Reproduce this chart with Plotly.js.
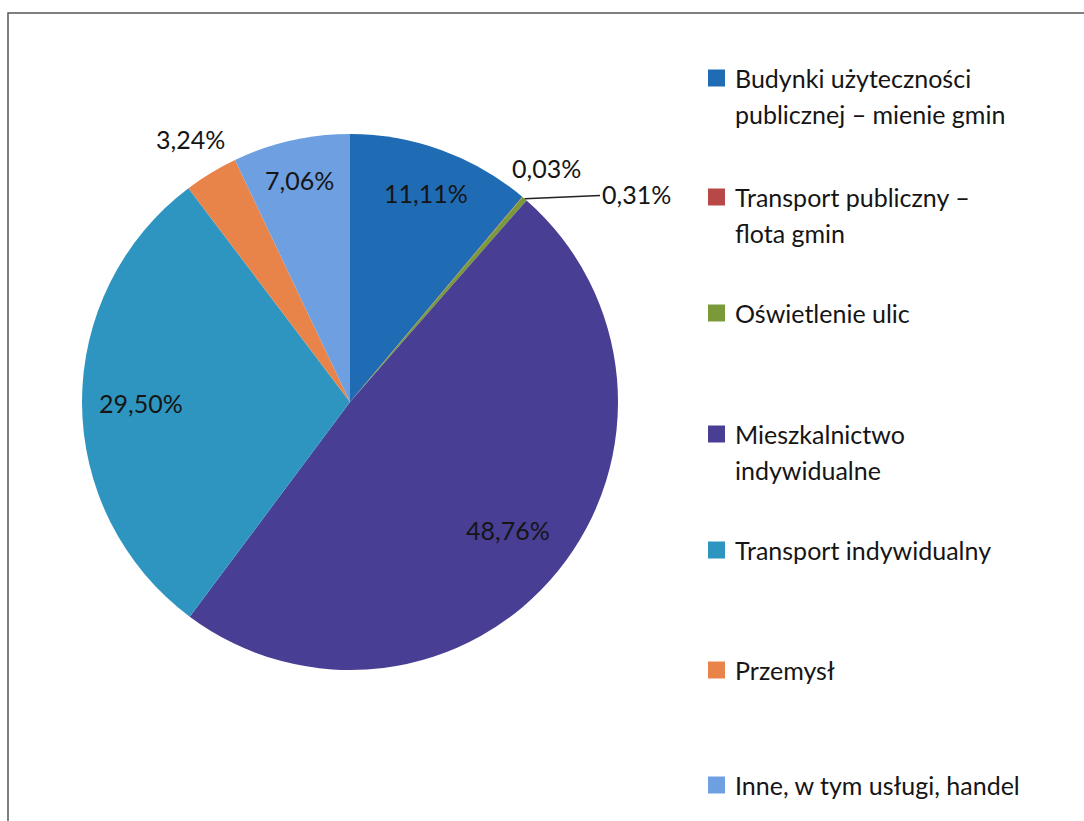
<!DOCTYPE html>
<html>
<head>
<meta charset="utf-8">
<script src="https://cdn.plot.ly/plotly-3.0.1.min.js"></script>
<style>html,body{margin:0;padding:0;background:#fff;}#chart{width:1084px;height:821px;}</style>
</head>
<body>
<div id="chart"></div>
<script>
// ---- data ----
const labels = [
  'Budynki użyteczności<br>publicznej – mienie gmin',
  'Transport publiczny –<br>flota gmin',
  'Oświetlenie ulic',
  'Mieszkalnictwo<br>indywidualne',
  'Transport indywidualny',
  'Przemysł',
  'Inne, w tym usługi, handel'
];
const values = [11.11, 0.03, 0.31, 48.76, 29.50, 3.24, 7.06];
const colors = ['#1F6CB4', '#B84848', '#7A9A3A', '#483E94', '#2E95C0', '#E8844A', '#6E9FE0'];

// ---- layout constants (pixels) ----
const W = 1084, H = 821;
const cx = 350, cy = 402, R = 268;
const labelRadius = [0.83, 1.14, null, 0.76, 0.78, 1.15, 0.85];
const legendY = [78, 197, 313, 434, 550, 670, 785];
const legendLineGap = 36;
const swatchX = 708, swatchSize = 17, textX = 733;
const fontFam = 'Lato, "Open Sans", sans-serif';
const textColor = '#151515';
const labelSize = 25, legendSize = 25;

const px = x => x / W;
const py = y => 1 - y / H;

const trace = {
  type: 'pie',
  labels: labels,
  values: values,
  sort: false,
  direction: 'clockwise',
  rotation: 0,
  marker: {colors: colors, line: {width: 0}},
  textinfo: 'none',
  hoverinfo: 'label+percent',
  showlegend: false,
  domain: {x: [px(cx - R), px(cx + R)], y: [py(cy + R), py(cy - R)]}
};

const total = values.reduce((a, b) => a + b, 0);
const annotations = [];
const shapes = [];
let cum = 0;
values.forEach((v, i) => {
  const mid = (cum + v / 2) / total * 2 * Math.PI;
  cum += v;
  const txt = v.toFixed(2).replace('.', ',') + '%';
  const sx = Math.sin(mid), sy = -Math.cos(mid);
  if (labelRadius[i] !== null) {
    const f = labelRadius[i];
    annotations.push({
      xref: 'paper', yref: 'paper',
      x: px(cx + sx * R * f), y: py(cy + sy * R * f),
      text: txt, showarrow: false,
      xanchor: 'center', yanchor: 'middle',
      font: {family: fontFam, size: labelSize, color: textColor}
    });
  } else {
    const ex = cx + sx * R, ey = cy + sy * R;
    annotations.push({
      xref: 'paper', yref: 'paper',
      x: px(ex), y: py(ey),
      text: txt, showarrow: true, arrowhead: 0, arrowwidth: 1.5, arrowcolor: '#222',
      ax: 636 - ex, ay: 194 - ey, standoff: 0,
      font: {family: fontFam, size: labelSize, color: textColor}
    });
  }
});

// legend drawn from labels/colors
labels.forEach((lab, i) => {
  const lines = lab.split('<br>');
  shapes.push({
    type: 'rect', xref: 'paper', yref: 'paper',
    x0: px(swatchX), x1: px(swatchX + swatchSize),
    y0: py(legendY[i] + swatchSize / 2), y1: py(legendY[i] - swatchSize / 2),
    fillcolor: colors[i], line: {width: 0}
  });
  lines.forEach((ln, j) => {
    annotations.push({
      xref: 'paper', yref: 'paper',
      x: px(textX), y: py(legendY[i] + j * legendLineGap),
      text: ln, showarrow: false, xanchor: 'left', yanchor: 'middle',
      font: {family: fontFam, size: legendSize, color: textColor}
    });
  });
});

// outer frame
shapes.push({
  type: 'rect', xref: 'paper', yref: 'paper',
  x0: px(8), x1: px(W + 10), y0: py(H + 10), y1: py(13),
  line: {color: '#555', width: 1.5}, fillcolor: 'rgba(0,0,0,0)'
});

const layout = {
  width: W, height: H,
  margin: {l: 0, r: 0, t: 0, b: 0},
  paper_bgcolor: '#fff',
  showlegend: false,
  annotations: annotations,
  shapes: shapes
};

Plotly.newPlot('chart', [trace], layout, {displayModeBar: false, staticPlot: true});
</script>
</body>
</html>
